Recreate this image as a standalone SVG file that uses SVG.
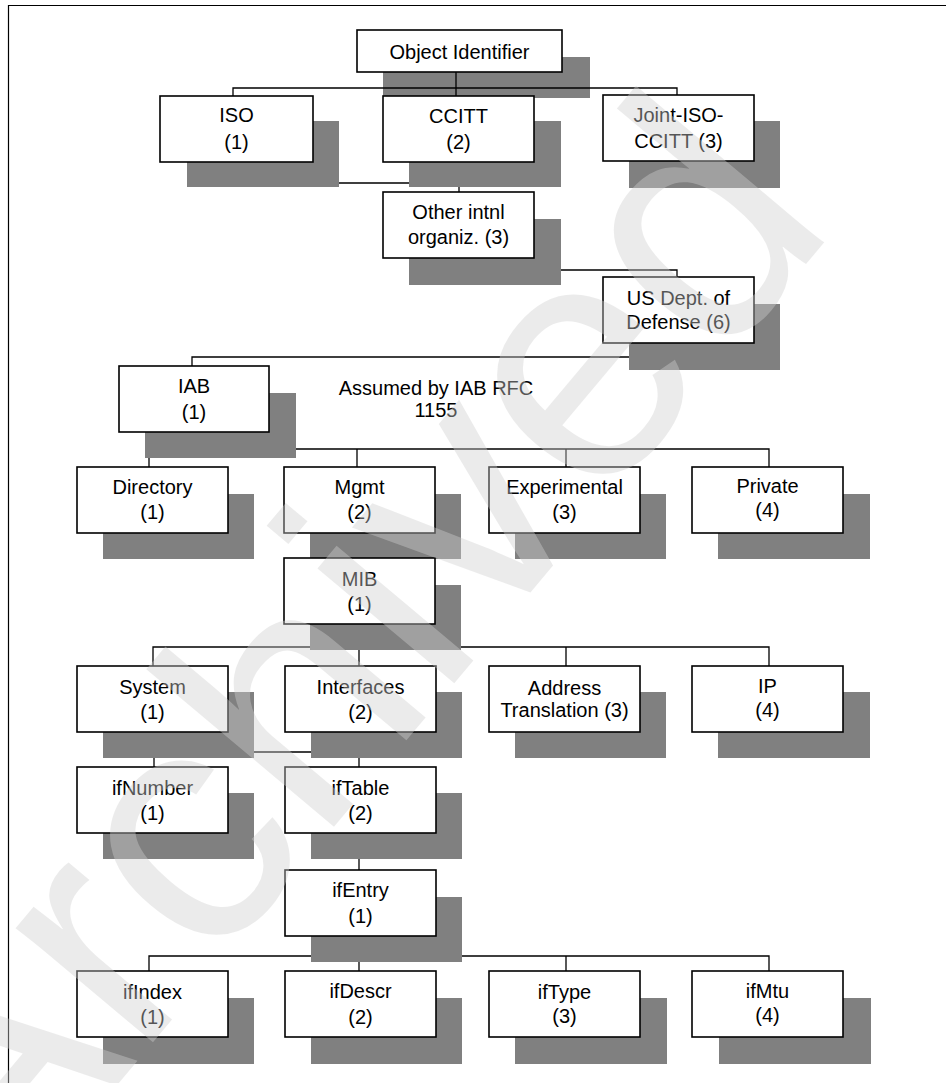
<svg xmlns="http://www.w3.org/2000/svg" width="946" height="1083" viewBox="0 0 946 1083">
<style>
.bg{fill:#ffffff}
.frame{stroke:#000;stroke-width:1.2;fill:none}
.sh{fill:#808080}
.bx{fill:#ffffff;stroke:#000;stroke-width:1.6}
.t{font-family:"Liberation Sans",Arial,sans-serif;font-size:20px;fill:#000;text-anchor:middle}
.c{stroke:#000;stroke-width:1.3;fill:none}
.wm{font-family:"Liberation Sans",Arial,sans-serif;font-size:338px;fill:#cfcfcf;fill-opacity:0.41}
</style>
<rect class="bg" x="0" y="0" width="946" height="1083"/>
<path class="frame" d="M8.5 1083 V5.5 H946"/>

<g id="n-oid">
<rect class="sh" x="383" y="57" width="207" height="41"/>
<rect class="bx" x="357" y="30" width="205" height="42"/>
<text class="t" x="459.5" y="59">Object Identifier</text>
</g>

<g id="connectors">
<path class="c" d="M456 72 V96 M233 96 V88 H677 V96"/>
<path class="c" d="M233 162 V183 H459 V192"/>
<path class="c" d="M459 258 V270 H677 V277"/>
<path class="c" d="M677 343 V357 H192 V366"/>
<path class="c" d="M192 432 V449 M149 467 V449 H769 V467 M357 449 V467 M566 449 V467"/>
<path class="c" d="M357 533 V558"/>
<path class="c" d="M357 624 V647 M153 666 V647 H769 V666 M359 647 V666 M566 647 V666"/>
<path class="c" d="M359 732 V767 M359 752 H154 V767"/>
<path class="c" d="M359 833 V870"/>
<path class="c" d="M359 936 V956 M149 971 V956 H769 V971 M359 956 V971 M566 956 V971"/>
</g>

<g id="n-iso">
<rect class="sh" x="187" y="121" width="152" height="66"/>
<rect class="bx" x="160" y="96" width="153" height="66"/>
<text class="t" x="236.5" y="122">ISO</text>
<text class="t" x="236.5" y="149">(1)</text>
</g>
<g id="n-ccitt">
<rect class="sh" x="409" y="121" width="152" height="66"/>
<rect class="bx" x="383" y="96" width="151" height="66"/>
<text class="t" x="458.5" y="123">CCITT</text>
<text class="t" x="458.5" y="149">(2)</text>
</g>
<g id="n-joint">
<rect class="sh" x="629" y="121" width="151" height="67"/>
<rect class="bx" x="603" y="95" width="151" height="66"/>
<text class="t" x="678.5" y="122">Joint-ISO-</text>
<text class="t" x="678.5" y="148">CCITT (3)</text>
</g>
<g id="n-other">
<rect class="sh" x="409" y="219" width="152" height="66"/>
<rect class="bx" x="383" y="192" width="151" height="66"/>
<text class="t" x="458.5" y="219">Other intnl</text>
<text class="t" x="458.5" y="244">organiz. (3)</text>
</g>
<g id="n-dod">
<rect class="sh" x="629" y="304" width="151" height="66"/>
<rect class="bx" x="603" y="277" width="151" height="66"/>
<text class="t" x="678.5" y="305">US Dept. of</text>
<text class="t" x="678.5" y="329">Defense (6)</text>
</g>
<g id="n-iab">
<rect class="sh" x="145" y="393" width="151" height="65"/>
<rect class="bx" x="119" y="366" width="150" height="66"/>
<text class="t" x="194" y="393">IAB</text>
<text class="t" x="194" y="419">(1)</text>
</g>
<g id="n-note">
<text class="t" x="436" y="395">Assumed by IAB RFC</text>
<text class="t" x="436" y="417">1155</text>
</g>

<g id="n-directory">
<rect class="sh" x="103" y="494" width="151" height="65"/>
<rect class="bx" x="77" y="467" width="151" height="66"/>
<text class="t" x="152.5" y="494">Directory</text>
<text class="t" x="152.5" y="519">(1)</text>
</g>
<g id="n-mgmt">
<rect class="sh" x="310" y="494" width="151" height="65"/>
<rect class="bx" x="284" y="467" width="151" height="66"/>
<text class="t" x="359.5" y="494">Mgmt</text>
<text class="t" x="359.5" y="519">(2)</text>
</g>
<g id="n-experimental">
<rect class="sh" x="515" y="494" width="151" height="65"/>
<rect class="bx" x="489" y="467" width="151" height="66"/>
<text class="t" x="564.5" y="494">Experimental</text>
<text class="t" x="564.5" y="519">(3)</text>
</g>
<g id="n-private">
<rect class="sh" x="718" y="494" width="152" height="65"/>
<rect class="bx" x="692" y="467" width="151" height="66"/>
<text class="t" x="767.5" y="493">Private</text>
<text class="t" x="767.5" y="517">(4)</text>
</g>
<g id="n-mib">
<rect class="sh" x="310" y="585" width="151" height="65"/>
<rect class="bx" x="284" y="558" width="151" height="66"/>
<text class="t" x="359.5" y="586">MIB</text>
<text class="t" x="359.5" y="611">(1)</text>
</g>

<g id="n-system">
<rect class="sh" x="103" y="692" width="151" height="66"/>
<rect class="bx" x="77" y="666" width="151" height="66"/>
<text class="t" x="152.5" y="694">System</text>
<text class="t" x="152.5" y="719">(1)</text>
</g>
<g id="n-interfaces">
<rect class="sh" x="311" y="692" width="151" height="66"/>
<rect class="bx" x="285" y="666" width="151" height="66"/>
<text class="t" x="360.5" y="694">Interfaces</text>
<text class="t" x="360.5" y="719">(2)</text>
</g>
<g id="n-address">
<rect class="sh" x="515" y="692" width="151" height="66"/>
<rect class="bx" x="489" y="666" width="151" height="66"/>
<text class="t" x="564.5" y="695">Address</text>
<text class="t" x="564.5" y="717">Translation (3)</text>
</g>
<g id="n-ip">
<rect class="sh" x="718" y="692" width="152" height="66"/>
<rect class="bx" x="692" y="666" width="151" height="66"/>
<text class="t" x="767.5" y="693">IP</text>
<text class="t" x="767.5" y="717">(4)</text>
</g>

<g id="n-ifnumber">
<rect class="sh" x="103" y="793" width="151" height="66"/>
<rect class="bx" x="77" y="767" width="151" height="66"/>
<text class="t" x="152.5" y="795">ifNumber</text>
<text class="t" x="152.5" y="820">(1)</text>
</g>
<g id="n-iftable">
<rect class="sh" x="311" y="793" width="151" height="66"/>
<rect class="bx" x="285" y="767" width="151" height="66"/>
<text class="t" x="360.5" y="795">ifTable</text>
<text class="t" x="360.5" y="820">(2)</text>
</g>
<g id="n-ifentry">
<rect class="sh" x="311" y="897" width="151" height="65"/>
<rect class="bx" x="285" y="870" width="151" height="66"/>
<text class="t" x="360.5" y="897">ifEntry</text>
<text class="t" x="360.5" y="923">(1)</text>
</g>

<g id="n-ifindex">
<rect class="sh" x="103" y="998" width="151" height="66"/>
<rect class="bx" x="77" y="971" width="151" height="66"/>
<text class="t" x="152.5" y="999">ifIndex</text>
<text class="t" x="152.5" y="1024">(1)</text>
</g>
<g id="n-ifdescr">
<rect class="sh" x="311" y="998" width="151" height="66"/>
<rect class="bx" x="285" y="971" width="151" height="66"/>
<text class="t" x="360.5" y="998">ifDescr</text>
<text class="t" x="360.5" y="1024">(2)</text>
</g>
<g id="n-iftype">
<rect class="sh" x="515" y="998" width="152" height="66"/>
<rect class="bx" x="489" y="971" width="151" height="66"/>
<text class="t" x="564.5" y="999">ifType</text>
<text class="t" x="564.5" y="1023">(3)</text>
</g>
<g id="n-ifmtu">
<rect class="sh" x="719" y="998" width="152" height="66"/>
<rect class="bx" x="692" y="971" width="151" height="66"/>
<text class="t" x="767.5" y="998">ifMtu</text>
<text class="t" x="767.5" y="1022">(4)</text>
</g>

<g id="watermark">
<text class="wm" transform="translate(-7 1233) rotate(-50)">Archived</text>
</g>
</svg>
